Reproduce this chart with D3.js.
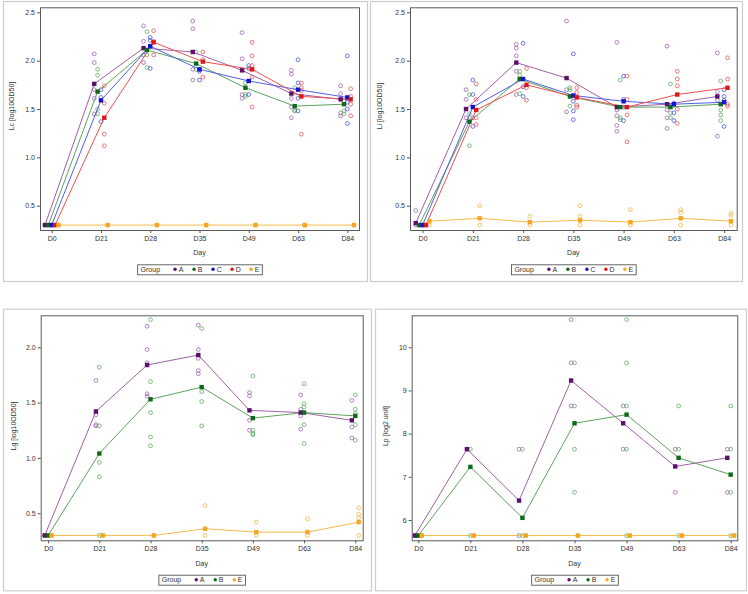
<!DOCTYPE html>
<html>
<head>
<meta charset="utf-8">
<title>Kinetics by group</title>
<script src="https://d3js.org/d3.v7.min.js"></script>
<style>
  body { margin: 0; background: #fff; }
  svg { display: block; font-family: "Liberation Sans", Arial, sans-serif; }
</style>
</head>
<body>
<svg id="chart" width="748" height="594"></svg>
<script>
// categories
const days = ["D0", "D21", "D28", "D35", "D49", "D63", "D84"];

// colours per group: mean marker, line, open circles
const markColor = {A: "#5c106c", B: "#0e6a18", C: "#1414cc", D: "#dc1818", E: "#f5a623"};
const lineColor = {A: "#a060aa", B: "#5ea35e", C: "#5060e6", D: "#f05050", E: "#f8ba4c"};
const ptColor   = {A: "#9a5cb0", B: "#5aa85a", C: "#3c4ce2", D: "#e84e4e", E: "#f2b040"};

// ---- Lc (top left) ----
const lcGroups = ["A", "B", "C", "D", "E"];
const lcMeans = [
  [0.30, 1.76, 2.13, 2.09, 1.90, 1.66, 1.60],
  [0.30, 1.68, 2.11, 1.97, 1.72, 1.53, 1.55],
  [0.30, 1.59, 2.15, 1.91, 1.79, 1.70, 1.62],
  [0.30, 1.41, 2.19, 1.99, 1.91, 1.63, 1.60],
  [0.30, 0.30, 0.30, 0.30, 0.30, 0.30, 0.30]
];
const lcPoints = [
  [[0.3], [2.07, 1.98, 1.70, 1.61, 1.45], [2.36, 2.20, 2.06, 1.98], [2.41, 2.33, 1.91, 1.80], [2.29, 2.02, 1.65, 1.61], [1.90, 1.86, 1.61, 1.52, 1.41], [1.74, 1.66, 1.46, 1.43]],
  [[0.3], [1.91, 1.85, 1.50, 1.45], [2.30, 2.06, 1.93], [2.09, 1.91], [1.77, 1.65, 1.63], [1.72, 1.49, 1.48], [1.58, 1.48, 1.45]],
  [[0.3], [1.70, 1.62, 1.37], [2.24, 2.21, 1.92], [1.91, 1.89, 1.80], [1.95, 1.92, 1.65], [2.01, 1.77, 1.61, 1.48], [2.05, 1.57, 1.50, 1.35]],
  [[0.3], [1.74, 1.56, 1.24, 1.12], [2.31, 2.20, 2.06], [2.09, 2.01, 1.83], [2.19, 2.05, 1.95, 1.83, 1.52], [1.77, 1.72, 1.69, 1.24], [1.71, 1.63, 1.55, 1.43]],
  [[0.3], [0.3], [0.3], [0.3], [0.3], [0.3], [0.3]]
];

// ---- Li (top right) ----
const liGroups = ["A", "B", "C", "D", "E"];
const liMeans = [
  [0.32, 1.50, 1.98, 1.82, 1.52, 1.55, 1.63],
  [0.30, 1.37, 1.81, 1.63, 1.52, 1.52, 1.55],
  [0.30, 1.52, 1.81, 1.64, 1.58, 1.55, 1.57],
  [0.30, 1.49, 1.75, 1.62, 1.52, 1.65, 1.72],
  [0.34, 0.37, 0.33, 0.35, 0.33, 0.37, 0.34]
];
const liPoints = [
  [[0.45, 0.3], [1.70, 1.60, 1.41], [2.17, 2.13, 2.05, 1.89, 1.65], [2.41, 1.70, 1.47], [2.19, 1.49, 1.43, 1.33, 1.27], [2.15, 1.49, 1.41, 1.30], [2.08, 1.68, 1.59, 1.22]],
  [[0.3], [1.65, 1.45, 1.12], [1.89, 1.85, 1.66], [1.72, 1.70, 1.53], [1.80, 1.41, 1.39], [1.76, 1.46, 1.41], [1.79, 1.49, 1.44, 1.38]],
  [[0.3], [1.80, 1.65, 1.41, 1.32], [2.18, 1.73, 1.63], [2.07, 1.58, 1.48, 1.39], [1.84, 1.60, 1.52, 1.38], [1.56, 1.46, 1.38], [1.70, 1.63, 1.59, 1.32]],
  [[0.3], [1.76, 1.60, 1.41, 1.34], [1.92, 1.72, 1.59], [1.72, 1.67, 1.54, 1.52], [1.84, 1.60, 1.44, 1.16], [1.89, 1.81, 1.74, 1.50, 1.35], [2.03, 1.81, 1.55, 1.53]],
  [[0.3], [0.50, 0.3], [0.39, 0.3], [0.50, 0.39, 0.3], [0.46, 0.3], [0.46, 0.43, 0.3], [0.42, 0.40, 0.3]]
];

// ---- Lg (bottom left) ----
const lgGroups = ["A", "B", "E"];
const lgMeans = [
  [0.30, 1.42, 1.84, 1.93, 1.43, 1.41, 1.34],
  [0.30, 1.04, 1.53, 1.64, 1.36, 1.41, 1.38],
  [0.30, 0.30, 0.30, 0.36, 0.33, 0.33, 0.42]
];
const lgPoints = [
  [[0.3], [1.70, 1.39, 1.30, 1.29], [2.19, 1.98, 1.86, 1.58, 1.56], [2.20, 1.98, 1.90, 1.79, 1.76], [1.59, 1.56, 1.34, 1.25], [1.57, 1.44, 1.38, 1.26], [1.52, 1.28, 1.18]],
  [[0.3], [1.82, 1.29, 0.96, 0.83, 0.30], [2.25, 1.69, 1.41, 1.19, 1.11], [2.17, 1.60, 1.51, 1.29], [1.74, 1.25, 1.22, 1.21], [1.67, 1.49, 1.46, 1.30, 1.13], [1.57, 1.44, 1.40, 1.30, 1.16]],
  [[0.3], [0.3], [0.3], [0.57, 0.3], [0.42, 0.3], [0.45, 0.3], [0.55, 0.49, 0.46, 0.3]]
];

// ---- Lp (bottom right) ----
const lpGroups = ["A", "B", "E"];
const lpMeans = [
  [5.64, 7.64, 6.45, 9.23, 8.24, 7.24, 7.44],
  [5.64, 7.23, 6.05, 8.24, 8.44, 7.44, 7.05],
  [5.64, 5.64, 5.64, 5.64, 5.64, 5.64, 5.64]
];
const lpPoints = [
  [[5.64], [7.64], [7.64, 5.64], [10.64, 9.64, 8.64], [8.64, 7.64], [7.64, 6.64], [7.64, 6.64]],
  [[5.64], [7.64, 5.64], [7.64, 5.64], [9.64, 8.64, 7.64, 6.64], [10.64, 9.64, 8.64, 7.64, 5.64], [8.64, 7.64, 5.64], [8.64, 7.64, 6.64, 5.64]],
  [[5.64], [5.64], [5.64], [5.64], [5.64], [5.64], [5.64]]
];

const svg = d3.select("#chart");

function drawPanel(p) {
  const g = svg.append("g");
  const [fx0, fy0, fx1, fy1] = p.frame;

  // outer light border
  g.append("rect")
    .attr("x", p.box[0] + 0.5).attr("y", p.box[1] + 0.5)
    .attr("width", p.box[2] - p.box[0]).attr("height", p.box[3] - p.box[1])
    .attr("fill", "none").attr("stroke", "#cdcdcd").attr("stroke-width", 1.2);

  const x = d3.scalePoint().domain(days).range([fx0, fx1]).padding(p.pad);
  const y = d3.scaleLinear().domain(p.yDomain).range([fy1, fy0]);
  const n = p.groups.length;
  const off = i => (i - (n - 1) / 2) * p.dodge;

  // axes
  const xa = g.append("g").attr("transform", `translate(0,${fy1})`)
    .call(d3.axisBottom(x).tickSize(3).tickPadding(3));
  const ya = g.append("g").attr("transform", `translate(${fx0},0)`)
    .call(d3.axisLeft(y).tickValues(p.yTicks).tickFormat(p.yFormat).tickSize(3).tickPadding(2));
  [xa, ya].forEach(a => {
    a.select(".domain").remove();
    a.selectAll("line").attr("stroke", "#555");
    a.selectAll("text").attr("fill", "#333").style("font-size", "7px")
      .style("font-family", "'Liberation Sans', Arial, sans-serif");
  });

  // open circles for the individual values
  p.groups.forEach((grp, gi) => {
    const pts = [];
    p.points[gi].forEach((vals, di) => vals.forEach(v => pts.push([di, v])));
    g.append("g").selectAll("circle").data(pts).join("circle")
      .attr("cx", d => x(days[d[0]]) + off(gi))
      .attr("cy", d => y(d[1]))
      .attr("r", 1.9)
      .attr("fill", "none")
      .attr("stroke", ptColor[grp])
      .attr("stroke-width", 0.75);
  });

  // mean lines and markers
  const line = d3.line().x((d, i) => x(days[i]) + d.o).y(d => y(d.v));
  p.groups.forEach((grp, gi) => {
    const ms = p.means[gi].map(v => ({v: v, o: off(gi)}));
    g.append("path").datum(ms)
      .attr("d", line)
      .attr("fill", "none")
      .attr("stroke", lineColor[grp])
      .attr("stroke-width", 1);
  });
  p.groups.forEach((grp, gi) => {
    g.append("g").selectAll("rect").data(p.means[gi]).join("rect")
      .attr("x", (d, i) => x(days[i]) + off(gi) - 2.2)
      .attr("y", d => y(d) - 2.2)
      .attr("width", 4.4).attr("height", 4.4)
      .attr("fill", markColor[grp]);
  });

  // plot frame
  g.append("rect")
    .attr("x", fx0 + 0.5).attr("y", fy0 + 0.5)
    .attr("width", fx1 - fx0).attr("height", fy1 - fy0)
    .attr("fill", "none").attr("stroke", "#5a5a5a").attr("stroke-width", 1);

  const cx = (fx0 + fx1) / 2;

  // axis labels
  g.append("text")
    .attr("x", cx).attr("y", fy1 + 22.7)
    .attr("text-anchor", "middle").attr("dominant-baseline", "central")
    .attr("fill", "#333").style("font-size", "7px")
    .text("Day");
  g.append("text")
    .attr("transform", `translate(${p.yLabelX},${p.yLabelY}) rotate(-90)`)
    .attr("text-anchor", "middle").attr("dominant-baseline", "central")
    .attr("fill", "#333").style("font-size", "7px")
    .text(p.yLabel);

  // legend
  const lg = g.append("g");
  const t0 = lg.append("text").attr("x", 3.4).attr("y", 7.6)
    .attr("fill", "#333").style("font-size", "7px").text("Group");
  let xx = 3.4 + t0.node().getComputedTextLength() + 15;
  p.groups.forEach((grp, gi) => {
    lg.append("circle").attr("cx", xx).attr("cy", 5).attr("r", 1.7).attr("fill", markColor[grp]);
    const t = lg.append("text").attr("x", xx + 3.6).attr("y", 7.6)
      .attr("fill", "#333").style("font-size", "7px").text(grp);
    if (gi < n - 1) xx += 19;
    else xx += 3.6 + t.node().getComputedTextLength() + 2.5;
  });
  lg.insert("rect", ":first-child")
    .attr("x", 0.5).attr("y", 0.5).attr("width", xx).attr("height", 10)
    .attr("fill", "#fff").attr("stroke", "#555").attr("stroke-width", 0.9);
  lg.attr("transform", `translate(${cx - xx / 2},${p.legendY})`);
}

const fmt1 = d3.format(".1f");

drawPanel({
  box: [3, 1, 367, 281], frame: [40, 7.3, 359, 230], pad: 0.237, dodge: 3.35,
  yDomain: [0.249, 2.552], yTicks: [0.5, 1.0, 1.5, 2.0, 2.5], yFormat: fmt1,
  yLabel: "Lc [log10OD50]", yLabelX: 11.7, yLabelY: 106, legendY: 264.3,
  groups: lcGroups, means: lcMeans, points: lcPoints
});
drawPanel({
  box: [370, 1, 742, 281], frame: [410, 7.3, 736.7, 230], pad: 0.25, dodge: 3.4,
  yDomain: [0.249, 2.552], yTicks: [0.5, 1.0, 1.5, 2.0, 2.5], yFormat: fmt1,
  yLabel: "Li [log10OD50]", yLabelX: 379.5, yLabelY: 106, legendY: 264.3,
  groups: liGroups, means: liMeans, points: liPoints
});
drawPanel({
  box: [3, 308.7, 371, 590.3], frame: [40.7, 315.3, 362.7, 540.3], pad: 0.145, dodge: 3.4,
  yDomain: [0.256, 2.289], yTicks: [0.5, 1.0, 1.5, 2.0], yFormat: fmt1,
  yLabel: "Lg [log10OD50]", yLabelX: 13.3, yLabelY: 426, legendY: 574.7,
  groups: lgGroups, means: lgMeans, points: lgPoints
});
drawPanel({
  box: [375, 308.7, 746, 590.3], frame: [411.7, 315.3, 737.3, 540.3], pad: 0.127, dodge: 3.4,
  yDomain: [5.53, 10.74], yTicks: [6, 7, 8, 9, 10], yFormat: d3.format("d"),
  yLabel: "Lp [log2 unit]", yLabelX: 385, yLabelY: 426, legendY: 574.7,
  groups: lpGroups, means: lpMeans, points: lpPoints
});
</script>
</body>
</html>
